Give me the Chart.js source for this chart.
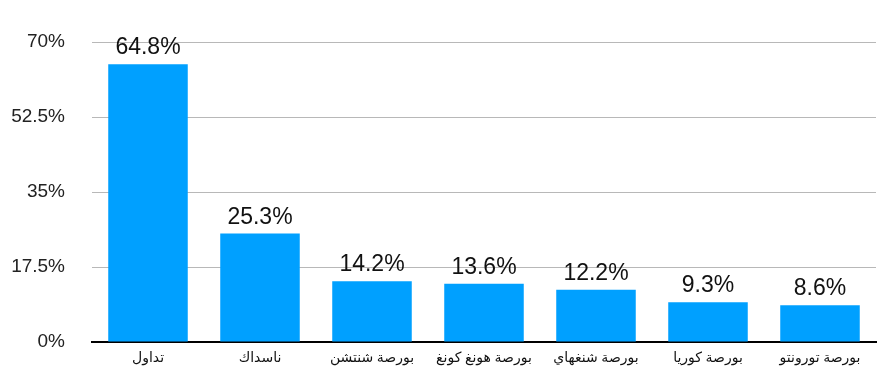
<!DOCTYPE html>
<html>
<head>
<meta charset="utf-8">
<script src="https://cdn.jsdelivr.net/npm/chart.js@4"></script>
<style>
  html, body { margin: 0; padding: 0; background: #fff; }
  #wrap { width: 889px; height: 376px; }
</style>
</head>
<body>
<div id="wrap"><canvas id="chart"></canvas></div>
<script>
const categories = ['تداول', 'ناسداك', 'بورصة شنتشن', 'بورصة هونغ كونغ', 'بورصة شنغهاي', 'بورصة كوريا', 'بورصة تورونتو'];
const shares = [64.8, 25.3, 14.2, 13.6, 12.2, 9.3, 8.6];
const yTicks = [0, 17.5, 35, 52.5, 70];

// labels above each bar
const valueLabels = {
  id: 'valueLabels',
  afterDatasetsDraw(chart) {
    const ctx = chart.ctx;
    const meta = chart.getDatasetMeta(0);
    ctx.save();
    ctx.font = '23px "Liberation Sans", Arial, sans-serif';
    ctx.fillStyle = '#111';
    ctx.textAlign = 'center';
    ctx.textBaseline = 'alphabetic';
    meta.data.forEach((bar, i) => {
      ctx.fillText(shares[i].toFixed(1) + '%', bar.x, bar.y - 10);
    });
    ctx.restore();
  }
};

new Chart(document.getElementById('chart'), {
  type: 'bar',
  data: {
    labels: categories,
    datasets: [{
      data: shares,
      backgroundColor: 'rgb(0, 160, 255)',
      barPercentage: 0.71,
      categoryPercentage: 1
    }]
  },
  options: {
    responsive: true,
    maintainAspectRatio: false,
    animation: false,
    layout: { padding: { top: 42, right: 13, left: 0, bottom: 0 } },
    plugins: {
      legend: { display: false },
      tooltip: { enabled: false }
    },
    scales: {
      x: {
        afterFit(axis) { axis.height = 34; },
        grid: { display: false },
        border: { display: true, color: '#000', width: 2 },
        ticks: {
          color: '#111',
          padding: 0,
          font: { family: '"Noto Sans", "DejaVu Sans", sans-serif', size: 14 }
        }
      },
      y: {
        min: 0,
        max: 70,
        afterBuildTicks(axis) {
          axis.ticks = yTicks.map(v => ({ value: v }));
        },
        afterFit(axis) {
          axis.width = 92;
          axis.paddingTop = 0;
          axis.paddingBottom = 0;
        },
        grid: { color: '#b8b8b8', drawTicks: false },
        border: { display: false },
        ticks: {
          color: '#222',
          padding: 27,
          font: { family: '"Liberation Sans", Arial, sans-serif', size: 19 },
          callback: v => v + '%'
        }
      }
    }
  },
  plugins: [valueLabels]
});
</script>
</body>
</html>
